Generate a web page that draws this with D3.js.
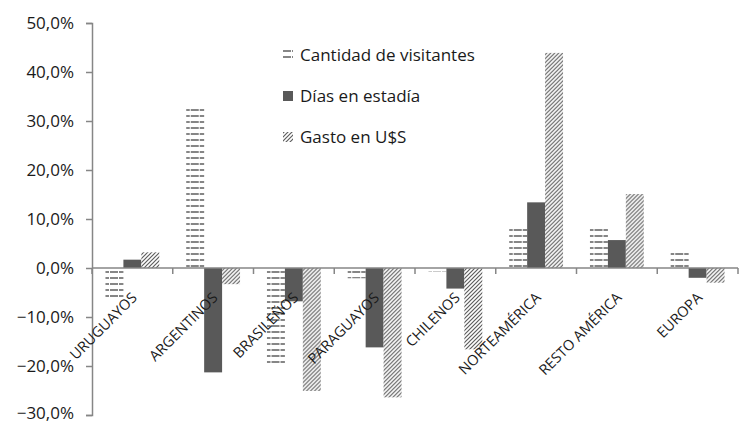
<!DOCTYPE html>
<html>
<head>
<meta charset="utf-8">
<script src="https://cdn.jsdelivr.net/npm/d3@7"></script>
<style>
  body { margin: 0; background: #fff; }
  text { font-family: "Open Sans", Lato, sans-serif; fill: #1a1a1a; }
</style>
</head>
<body>
<div id="container"></div>
<script>
/* DATA */
var categories = ["URUGUAYOS", "ARGENTINOS", "BRASILEÑOS", "PARAGUAYOS", "CHILENOS", "NORTEAMÉRICA", "RESTO AMÉRICA", "EUROPA"];
var seriesNames = ["Cantidad de visitantes", "Días en estadía", "Gasto en U$S"];
var visitantes = [-6.0, 33.0, -19.7, -2.1, -0.7, 8.0, 8.1, 3.1];
var dias = [1.7, -21.3, -6.8, -16.2, -4.2, 13.4, 5.7, -2.0];
var gasto = [3.2, -3.3, -25.1, -26.4, -16.6, 43.9, 15.1, -3.0];
var yTicks = [-30, -20, -10, 0, 10, 20, 30, 40, 50];

var width = 740, height = 424;
var margin = { top: 23, right: 2, bottom: 9, left: 92 };

var svg = d3.select("#container")
  .append("svg")
  .attr("width", width)
  .attr("height", height);

// patterns
var defs = svg.append("defs");
var ph = defs.append("pattern")
  .attr("id", "horz")
  .attr("patternUnits", "userSpaceOnUse")
  .attr("width", 18).attr("height", 6);
ph.append("rect").attr("width", 18).attr("height", 6).attr("fill", "#fff");
ph.append("line")
  .attr("x1", 0).attr("x2", 18).attr("y1", 2).attr("y2", 2)
  .attr("stroke", "#5e5e5e").attr("stroke-width", 1.6)
  .attr("stroke-dasharray", "8,1");

var pd = defs.append("pattern")
  .attr("id", "diag")
  .attr("patternUnits", "userSpaceOnUse")
  .attr("width", 4).attr("height", 4);
pd.append("rect").attr("width", 4).attr("height", 4).attr("fill", "#fff");
pd.append("path")
  .attr("d", "M-1,1 l2,-2 M0,4 l4,-4 M3,5 l2,-2")
  .attr("stroke", "#5e5e5e").attr("stroke-width", 1.2);

var fills = ["url(#horz)", "#595959", "url(#diag)"];
var series = [visitantes, dias, gasto];

// SCALES
var x = d3.scaleBand()
  .domain(categories)
  .range([margin.left, width - margin.right]);

var x1 = d3.scaleBand()
  .domain(d3.range(3))
  .range([0, x.bandwidth()])
  .paddingOuter(0.75)
  .paddingInner(0);

var y = d3.scaleLinear()
  .domain([-30, 50])
  .range([height - margin.bottom, margin.top]);

// Bars
var groups = svg.append("g").selectAll("g")
  .data(categories)
  .enter()
  .append("g")
  .attr("transform", d => "translate(" + x(d) + ",0)");

groups.selectAll("rect")
  .data((d, i) => series.map((s, k) => ({ k: k, v: s[i] })))
  .enter()
  .append("rect")
  .attr("x", d => x1(d.k))
  .attr("width", x1.bandwidth())
  .attr("y", d => y(Math.max(0, d.v)))
  .attr("height", d => Math.abs(y(d.v) - y(0)))
  .attr("fill", d => fills[d.k]);

// Y axis
var yAxis = svg.append("g")
  .attr("transform", "translate(" + margin.left + ",0)")
  .call(d3.axisLeft(y).tickValues(yTicks).tickSize(6).tickPadding(12)
    .tickFormat(d => d3.format(".1f")(d).replace(".", ",") + "%"));
yAxis.select(".domain").attr("stroke", "#868686").attr("stroke-width", 1.5);
yAxis.selectAll(".tick line").attr("stroke", "#868686").attr("stroke-width", 1.5);
yAxis.selectAll(".tick text").style("font-size", "17px").attr("fill", "#1a1a1a")
  .attr("dy", d => d === -30 ? "0.2em" : "0.32em");

// X axis at zero
var xAxis = svg.append("g")
  .attr("transform", "translate(0," + y(0) + ")");
xAxis.append("line")
  .attr("x1", margin.left).attr("x2", width - margin.right)
  .attr("stroke", "#868686").attr("stroke-width", 1.5);
xAxis.selectAll(".tk")
  .data(categories.concat(["end"]))
  .enter()
  .append("line")
  .attr("x1", (d, i) => i < categories.length ? x(d) : width - margin.right)
  .attr("x2", (d, i) => i < categories.length ? x(d) : width - margin.right)
  .attr("y1", 0).attr("y2", 6)
  .attr("stroke", "#868686").attr("stroke-width", 1.5);

xAxis.selectAll(".lbl")
  .data(categories)
  .enter()
  .append("text")
  .attr("text-anchor", "end")
  .attr("transform", d => "translate(" + (x(d) + x.bandwidth() / 2 + 2) + ",27) rotate(-45)")
  .attr("dy", "0.35em")
  .style("font-size", "14.5px")
  .text(d => d);

// Legend
var legend = svg.append("g").attr("transform", "translate(283,55)");
seriesNames.forEach(function(name, i) {
  var row = legend.append("g").attr("transform", "translate(0," + (i * 41) + ")");
  row.append("rect")
    .attr("x", 0).attr("y", -5).attr("width", 10).attr("height", 10)
    .attr("fill", fills[i]);
  row.append("text")
    .attr("x", 17).attr("y", 0).attr("dy", "0.35em")
    .style("font-size", "17px")
    .text(name);
});
</script>
</body>
</html>
